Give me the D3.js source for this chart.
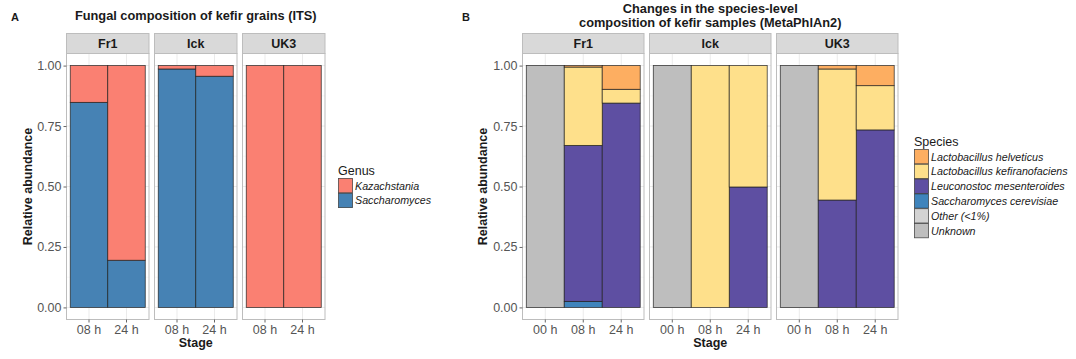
<!DOCTYPE html>
<html>
<head>
<meta charset="utf-8">
<script src="https://cdn.jsdelivr.net/npm/d3@7"></script>
<style>
  html, body { margin: 0; padding: 0; background: #fff; }
  svg { display: block; font-family: "Liberation Sans", Arial, sans-serif; }
</style>
</head>
<body>
<svg id="fig" width="1076" height="359"></svg>
<script>
// ---- data ----
const sites = ["Fr1", "Ick", "UK3"];
const itsStages = ["08 h", "24 h"];
const metaStages = ["00 h", "08 h", "24 h"];
const yTicks = [0, 0.25, 0.5, 0.75, 1];
const yTickLabels = ["0.00", "0.25", "0.50", "0.75", "1.00"];

// Panel A: genus-level ITS, one value per site and stage (Fr1 08/24, Ick 08/24, UK3 08/24)
const genera = ["Kazachstania", "Saccharomyces"];
const kazachstania = [0.152, 0.805, 0.014, 0.044, 1.0, 1.0];
const saccharomyces = [0.848, 0.195, 0.986, 0.956, 0.0, 0.0];
const genusColors = ["#FA8072", "#4682B4"];

// Panel B: species-level MetaPhlAn2 (Fr1 00/08/24, Ick 00/08/24, UK3 00/08/24)
const species = ["Lactobacillus helveticus", "Lactobacillus kefiranofaciens",
  "Leuconostoc mesenteroides", "Saccharomyces cerevisiae", "Other (<1%)", "Unknown"];
const lHelveticus      = [0, 0.006, 0.098, 0, 0,     0,     0, 0.014, 0.083];
const lKefiranofaciens = [0, 0.324, 0.057, 0, 1.0,   0.502, 0, 0.542, 0.183];
const leuconostoc      = [0, 0.645, 0.845, 0, 0,     0.498, 0, 0.444, 0.734];
const sCerevisiae      = [0, 0.025, 0,     0, 0,     0,     0, 0,     0];
const otherLow         = [0, 0,     0,     0, 0,     0,     0, 0,     0];
const unknown          = [1.0, 0,   0,     1.0, 0,   0,     1.0, 0,   0];
const speciesColors = ["#FDAE61", "#FEE08B", "#5E4FA2", "#3F84BC", "#D3D3D3", "#BEBEBE"];

// ---- helpers ----
const svg = d3.select("#fig");
const FONT_TICK = 12.5;

function buildRows(stages, keys, series) {
  const rows = [];
  sites.forEach((site, si) => {
    stages.forEach((stage, ti) => {
      const r = { site, stage };
      keys.forEach((k, ki) => { r[k] = series[ki][si * stages.length + ti]; });
      rows.push(r);
    });
  });
  return rows;
}

function drawFacetChart(opt) {
  const g = svg.append("g");
  const y = d3.scaleLinear().domain([-0.05, 1.05]).range([opt.bottom, opt.top]);
  const stripTop = opt.top - 20;

  // stack from bottom: last legend entry at the bottom
  const stackKeys = opt.keys.slice().reverse();
  const colorOf = d3.scaleOrdinal().domain(opt.keys).range(opt.colors);
  const stacked = d3.stack().keys(stackKeys)(opt.rows);

  sites.forEach((site, si) => {
    const x0 = opt.left + si * (opt.panelW + opt.gap);
    const x = d3.scaleBand().domain(opt.stages).range([x0, x0 + opt.panelW])
      .paddingInner(0).paddingOuter(0.1);
    const pg = g.append("g");

    // panel background and grid
    pg.append("rect").attr("x", x0).attr("y", opt.top).attr("width", opt.panelW)
      .attr("height", opt.bottom - opt.top).attr("fill", "#fff");
    const minor = [0.125, 0.375, 0.625, 0.875];
    pg.selectAll(".gmin").data(minor).join("line")
      .attr("x1", x0).attr("x2", x0 + opt.panelW)
      .attr("y1", d => y(d)).attr("y2", d => y(d))
      .attr("stroke", "#f3f3f3").attr("stroke-width", 0.6);
    pg.selectAll(".gmaj").data(yTicks).join("line")
      .attr("x1", x0).attr("x2", x0 + opt.panelW)
      .attr("y1", d => y(d)).attr("y2", d => y(d))
      .attr("stroke", "#ebebeb").attr("stroke-width", 1);
    pg.selectAll(".gx").data(opt.stages).join("line")
      .attr("x1", d => x(d) + x.bandwidth() / 2).attr("x2", d => x(d) + x.bandwidth() / 2)
      .attr("y1", opt.top).attr("y2", opt.bottom)
      .attr("stroke", "#ebebeb").attr("stroke-width", 1);

    // stacked bars
    stacked.forEach(layer => {
      layer.forEach(seg => {
        const row = seg.data;
        if (row.site !== site) return;
        if (seg[1] - seg[0] <= 0) return;
        pg.append("rect")
          .attr("x", x(row.stage)).attr("width", x.bandwidth())
          .attr("y", y(seg[1])).attr("height", y(seg[0]) - y(seg[1]))
          .attr("fill", colorOf(layer.key))
          .attr("stroke", "rgba(30,30,30,0.85)").attr("stroke-width", 0.8);
      });
    });

    // panel border
    pg.append("rect").attr("x", x0).attr("y", opt.top).attr("width", opt.panelW)
      .attr("height", opt.bottom - opt.top).attr("fill", "none")
      .attr("stroke", "#bdbdbd").attr("stroke-width", 1);

    // strip
    pg.append("rect").attr("x", x0).attr("y", stripTop).attr("width", opt.panelW)
      .attr("height", 20).attr("fill", "#d9d9d9")
      .attr("stroke", "#bdbdbd").attr("stroke-width", 1);
    pg.append("text").attr("x", x0 + opt.panelW / 2).attr("y", stripTop + 14.5)
      .attr("text-anchor", "middle").attr("font-weight", "bold")
      .attr("font-size", 12.5).attr("fill", "#1a1a1a").text(site);

    // x axis
    const xa = pg.append("g").attr("transform", `translate(0,${opt.bottom})`)
      .call(d3.axisBottom(x).tickSize(3).tickPadding(3));
    xa.select(".domain").remove();
    xa.selectAll(".tick line").attr("stroke", "#666");
    xa.selectAll(".tick text").attr("font-size", FONT_TICK).attr("fill", "#555")
      .attr("font-family", "Liberation Sans, Arial, sans-serif");

    // y axis only on first panel
    if (si === 0) {
      const ya = pg.append("g").attr("transform", `translate(${x0},0)`)
        .call(d3.axisLeft(y).tickValues(yTicks).tickFormat((d, i) => yTickLabels[i])
          .tickSize(3).tickPadding(2));
      ya.select(".domain").remove();
      ya.selectAll(".tick line").attr("stroke", "#666");
      ya.selectAll(".tick text").attr("font-size", FONT_TICK).attr("fill", "#555")
        .attr("font-family", "Liberation Sans, Arial, sans-serif");
    }
  });

  const fullL = opt.left, fullR = opt.left + 3 * opt.panelW + 2 * opt.gap;
  const cx = (fullL + fullR) / 2;

  // axis titles
  g.append("text").attr("x", cx).attr("y", 347).attr("text-anchor", "middle")
    .attr("font-weight", "bold").attr("font-size", 12.5).attr("fill", "#1a1a1a").text("Stage");
  g.append("text").attr("transform", `translate(${opt.yTitleX},${(opt.top + opt.bottom) / 2}) rotate(-90)`)
    .attr("text-anchor", "middle").attr("dominant-baseline", "central")
    .attr("font-weight", "bold").attr("font-size", 12.5).attr("fill", "#1a1a1a")
    .text("Relative abundance");

  // title
  opt.title.forEach((line, i) => {
    g.append("text").attr("x", cx).attr("y", opt.titleY + i * 14)
      .attr("text-anchor", "middle").attr("font-weight", "bold")
      .attr("font-size", 12.8).attr("fill", "#1a1a1a").text(line);
  });

  // panel tag
  g.append("text").attr("x", opt.tagX).attr("y", 21).attr("font-weight", "bold")
    .attr("font-size", 11).attr("fill", "#1a1a1a").text(opt.tag);

  // legend
  const lg = g.append("g");
  lg.append("text").attr("x", opt.legX).attr("y", opt.legY)
    .attr("font-size", 12.5).attr("fill", "#1a1a1a").text(opt.legendTitle);
  opt.keys.forEach((k, i) => {
    const ky = opt.legY + 3.5 + i * 14.8;
    lg.append("rect").attr("x", opt.legX + 0.5).attr("y", ky)
      .attr("width", 14).attr("height", 14.3)
      .attr("fill", colorOf(k)).attr("stroke", "rgba(40,40,40,0.8)").attr("stroke-width", 0.8);
    lg.append("text").attr("x", opt.legX + 17).attr("y", ky + 11)
      .attr("font-size", 10.7).attr("font-style", "italic").attr("fill", "#1a1a1a").text(k);
  });
}

// ---- panel A ----
drawFacetChart({
  rows: buildRows(itsStages, genera, [kazachstania, saccharomyces]),
  keys: genera, colors: genusColors, stages: itsStages,
  left: 66.5, panelW: 82.5, gap: 5.5, top: 53.5, bottom: 319.5,
  yTitleX: 28, title: ["Fungal composition of kefir grains (ITS)"], titleY: 20,
  tag: "A", tagX: 11, legendTitle: "Genus", legX: 338, legY: 175
});

// ---- panel B ----
drawFacetChart({
  rows: buildRows(metaStages, species,
    [lHelveticus, lKefiranofaciens, leuconostoc, sCerevisiae, otherLow, unknown]),
  keys: species, colors: speciesColors, stages: metaStages,
  left: 522.5, panelW: 121.5, gap: 5.5, top: 53.5, bottom: 319.5,
  yTitleX: 483, title: ["Changes in the species-level", "composition of kefir samples (MetaPhlAn2)"],
  titleY: 13, tag: "B", tagX: 462, legendTitle: "Species", legX: 914, legY: 146
});
</script>
</body>
</html>
